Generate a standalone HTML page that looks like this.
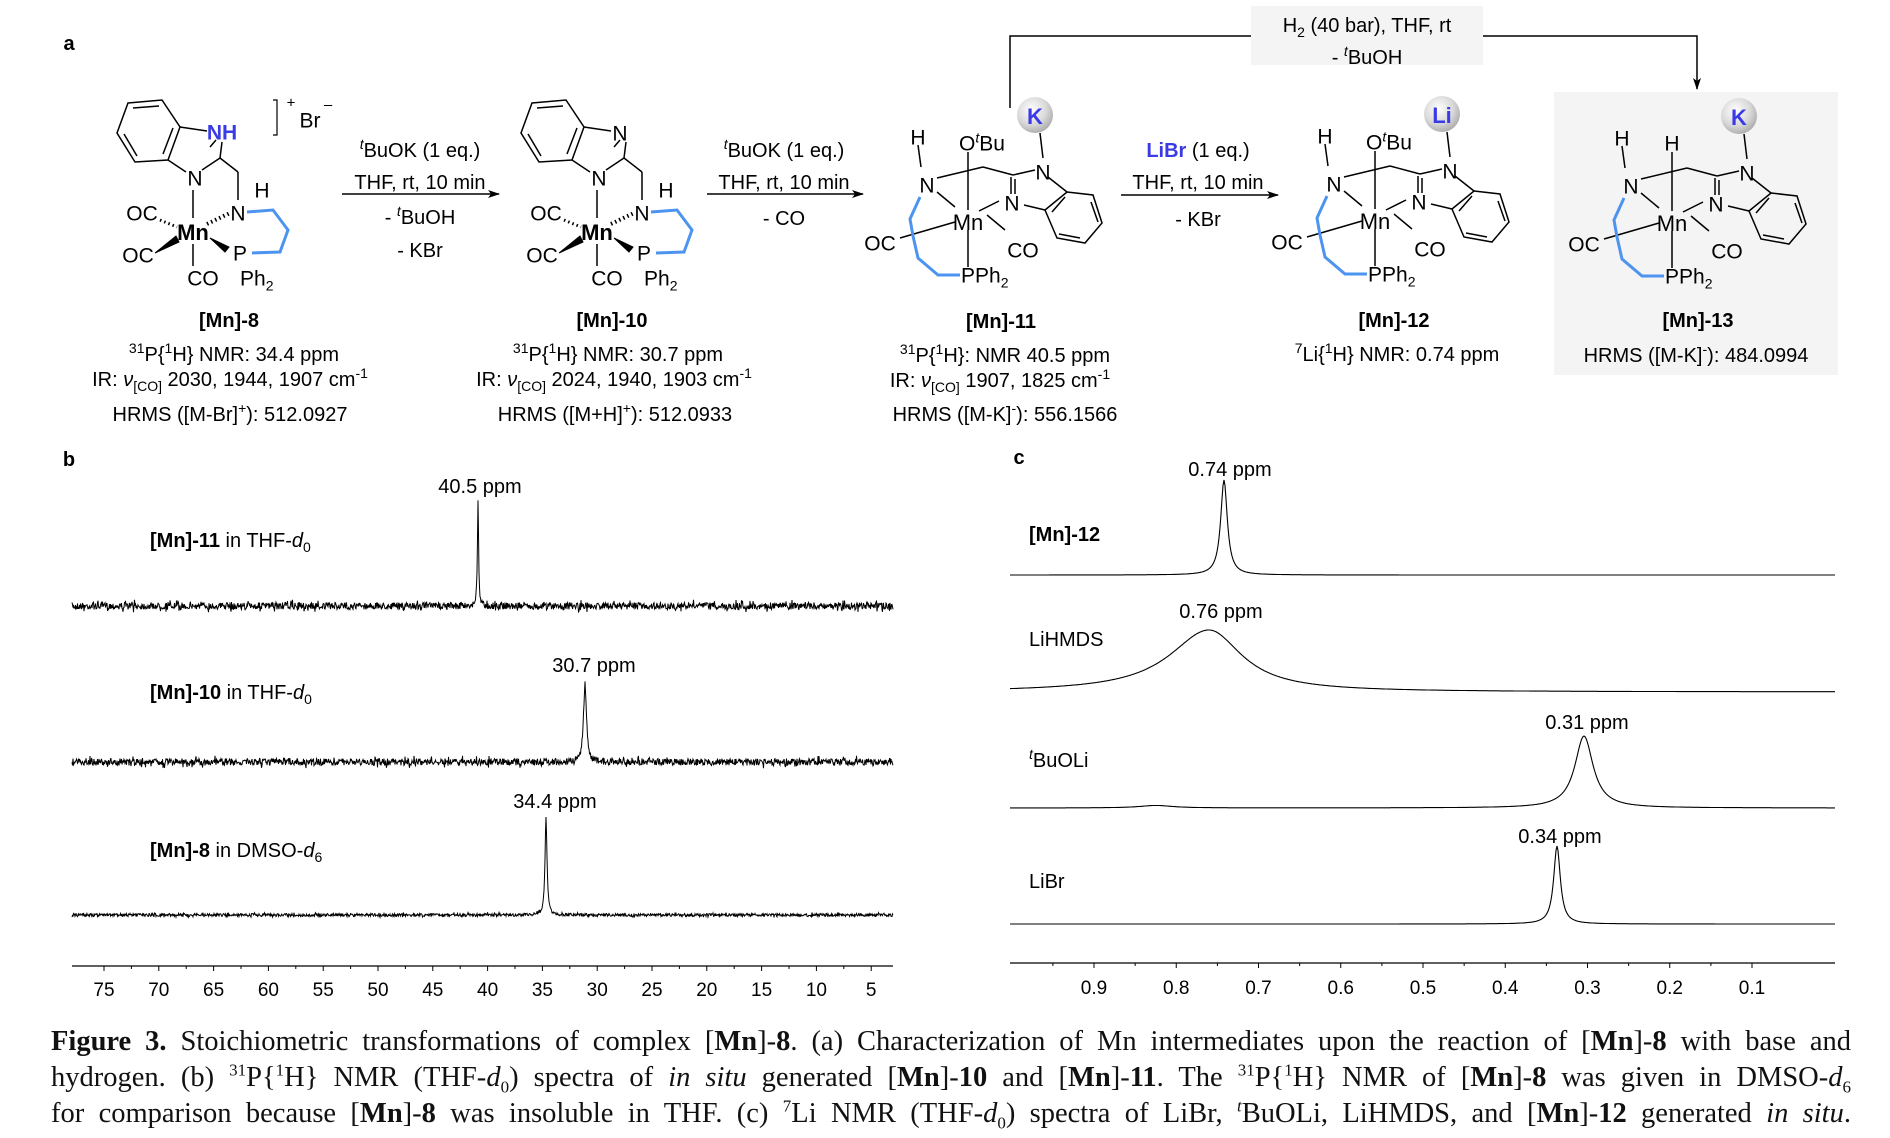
<!DOCTYPE html>
<html><head><meta charset="utf-8">
<style>
html,body{margin:0;padding:0;background:#fff;}
body{width:1890px;height:1138px;position:relative;overflow:hidden;}
svg{position:absolute;left:0;top:0;}
.cap{position:absolute;left:51px;top:1024px;width:1800px;font-family:"Liberation Serif",serif;font-size:28.5px;line-height:36px;text-align:justify;text-align-last:justify;color:#111;}
.cap p{margin:0;white-space:nowrap;}
.cap sup,.cap sub{font-size:17px;line-height:0;}
</style></head><body>
<svg id="s" width="1890" height="1138" viewBox="0 0 1890 1138" font-family="Liberation Sans, sans-serif">
<defs>
<radialGradient id="g" cx="0.4" cy="0.35" r="0.7">
<stop offset="0" stop-color="#ffffff"/><stop offset="0.6" stop-color="#d8d8d8"/><stop offset="1" stop-color="#a8a8a8"/>
</radialGradient>
<marker id="ar" markerWidth="12" markerHeight="8" refX="11" refY="4" orient="auto" markerUnits="userSpaceOnUse">
<path d="M0,0 L12,4 L0,8 L3,4 z" fill="#000"/></marker>
</defs>
<rect x="1554" y="92" width="284" height="283" fill="#f4f4f4"/>
<rect x="1251" y="6" width="232" height="59" fill="#f4f4f4"/>
<g id="main"></g>
</svg>
<div class="cap">
<p><b>Figure 3.</b> Stoichiometric transformations of complex [<b>Mn</b>]-<b>8</b>. (a) Characterization of Mn intermediates upon the reaction of [<b>Mn</b>]-<b>8</b> with base and</p>
<p>hydrogen. (b) <sup>31</sup>P{<sup>1</sup>H} NMR (THF-<i>d</i><sub>0</sub>) spectra of <i>in situ</i> generated [<b>Mn</b>]-<b>10</b> and [<b>Mn</b>]-<b>11</b>. The <sup>31</sup>P{<sup>1</sup>H} NMR of [<b>Mn</b>]-<b>8</b> was given in DMSO-<i>d</i><sub>6</sub></p>
<p>for comparison because [<b>Mn</b>]-<b>8</b> was insoluble in THF. (c) <sup>7</sup>Li NMR (THF-<i>d</i><sub>0</sub>) spectra of LiBr, <sup><i>t</i></sup>BuOLi, LiHMDS, and [<b>Mn</b>]-<b>12</b> generated <i>in situ</i>.</p>
</div>
<script>
(function(){
var o=[];
function L(x1,y1,x2,y2,c,w){o.push('<line x1="'+x1+'" y1="'+y1+'" x2="'+x2+'" y2="'+y2+'" stroke="'+(c||'#000')+'" stroke-width="'+(w||1.5)+'"/>');}
function T(x,y,s,opt){opt=opt||{};o.push('<text x="'+x+'" y="'+y+'" font-size="'+(opt.fs||21)+'" text-anchor="'+(opt.a||'middle')+'"'+(opt.b?' font-weight="bold"':'')+(opt.f?' fill="'+opt.f+'"':'')+'>'+s+'</text>');}
function P(d,c,w,f){o.push('<path d="'+d+'" stroke="'+(c||'#000')+'" stroke-width="'+(w||1.5)+'" fill="'+(f||'none')+'"/>');}
var SUB=function(s){return '<tspan font-size="14" baseline-shift="-5">'+s+'</tspan>';};
var SUP=function(s,it){return '<tspan font-size="14" baseline-shift="8"'+(it?' font-style="italic"':'')+'>'+s+'</tspan>';};
var T0=T;T=function(x,y,s,opt){opt=opt||{};var fs=opt.fs||21;T0(x,y+fs*0.36,s,opt);};
var BL='#4d94f0';
T(69,43,'a',{b:1,fs:20});T(69,459,'b',{b:1,fs:20});T(1019,457,'c',{b:1,fs:20});
function s8(dx,nh){
 o.push('<g transform="translate('+dx+',0)">');
 P('M128,103 L162,100 L180,127 L168,160 L135,162 L117,133 Z');
 L(133,108,159,106);L(173,128,163,154);L(124,134,137,156);
 L(168,160,186,172);L(180,127,207,131);
 L(202,170,220,158);L(210,147,216,140);L(220,158,222,142);
 L(220,158,238,172);L(238,172,238,200);
 L(193,190,193,218);L(193,244,193,266);
 P('M247,212 L273,210 L288,230 L280,252 L252,253',BL,3);
 o.push('<line x1="207" y1="224" x2="230" y2="213" stroke="#000" stroke-width="4" stroke-dasharray="1.5,3"/>');
 o.push('<line x1="160" y1="220" x2="177" y2="227" stroke="#000" stroke-width="3" stroke-dasharray="1.5,3"/>');
 P('M155,253 L176,236 L179,242 Z','#000',1,'#000');
 P('M210,238 L229,247 L225,252 Z','#000',1,'#000');
 if(nh){T(222,132,'NH',{f:'#3a3ae6',b:1});}else{T(216,133,'N');}
 T(195,178,'N');T(238,213,'N');T(262,190,'H');
 T(193,232,'Mn',{b:1,fs:22});
 T(142,213,'OC');T(138,255,'OC');T(203,278,'CO');T(240,253,'P');
 T(240,278,'Ph'+SUB('2'),{a:'start'});
 o.push('</g>');
}
s8(0,1);s8(404,0);
P('M273,100 L277,100 L277,135 L273,135',"#000",1.2);
T(291,102,'+',{fs:15});T(310,120,'Br',{});T(328,104,'&#8211;',{fs:15});
function s11(cx,cy,topH,ion){
 o.push('<g transform="translate('+cx+','+cy+')">');
 L(-50,-77,-47,-55);L(-31,-44,15,-55);L(15,-55,45,-47);L(45,-47,67,-52);
 L(43,-45,43,-28);L(47,-43,47,-28);
 L(-31,-30,-13,-15);L(31,-21,11,-11);
 L(0,topH?-71:-70,0,-12);L(0,8,0,45);
 L(-68,16,-13,0);L(19,-7,37,8);
 L(80,-45,99,-30);L(56,-17,77,-12);
 P('M99,-30 L125,-27 L134,1 L117,21 L89,16 L77,-12 Z');
 L(123,-20,130,0);L(112,16,91,12);L(84,-10,97,-25);
 L(72,-89,75,-64);
 P('M-48,-25 L-58,-3 L-55,14 L-50,36 L-30,53 L-8,53',BL,3);
 o.push('<circle cx="67" cy="-107" r="18" fill="url(#g)"/>');
 T(67,-106,ion,{f:'#3a3ae6',fs:22,b:1});
 T(-50,-85,'H');T(-41,-37,'N');
 if(topH){T(0,-80,'H');}else{T(-9,-79,'O'+SUP('t',1)+'Bu',{a:'start'});}
 T(0,0,'Mn',{fs:22});T(75,-50,'N');T(44,-19,'N');
 T(-88,21,'OC');T(55,28,'CO');T(-7,53,'PPh'+SUB('2'),{a:'start'});
 o.push('</g>');
}
s11(968,222,0,'K');s11(1375,221,0,'Li');s11(1672,223,1,'K');
function arr(x1,x2,y){o.push('<line x1="'+x1+'" y1="'+y+'" x2="'+x2+'" y2="'+y+'" stroke="#000" stroke-width="1.5" marker-end="url(#ar)"/>');}
arr(342,499,194);arr(707,863,194);arr(1121,1278,195);
var A={fs:20};
T(420,150,SUP('t',1)+'BuOK (1 eq.)',A);T(420,182,'THF, rt, 10 min',A);T(420,217,'- '+SUP('t',1)+'BuOH',A);T(420,250,'- KBr',A);
T(784,150,SUP('t',1)+'BuOK (1 eq.)',A);T(784,182,'THF, rt, 10 min',A);T(784,218,'- CO',A);
T(1198,150,'<tspan fill="#3a3ae6" font-weight="bold">LiBr</tspan> (1 eq.)',A);T(1198,182,'THF, rt, 10 min',A);T(1198,219,'- KBr',A);
P('M1010,108 L1010,36 L1251,36');
o.push('<path d="M1483,36 L1697,36 L1697,89" stroke="#000" stroke-width="1.5" fill="none" marker-end="url(#ar)"/>');
T(1367,25,'H'+SUB('2')+' (40 bar), THF, rt',A);T(1367,57,'- '+SUP('t',1)+'BuOH',A);
var C={fs:20};
T(229,320,'[Mn]-8',{b:1,fs:20});T(612,320,'[Mn]-10',{b:1,fs:20});T(1001,321,'[Mn]-11',{b:1,fs:20});T(1394,320,'[Mn]-12',{b:1,fs:20});T(1698,320,'[Mn]-13',{b:1,fs:20});
T(234,354,SUP('31')+'P{'+SUP('1')+'H} NMR: 34.4 ppm',C);
T(230,379,'IR:  <tspan font-style="italic">ν</tspan>'+SUB('[CO]')+' 2030, 1944, 1907 cm'+SUP('-1'),C);
T(230,414,'HRMS ([M-Br]'+SUP('+')+'): 512.0927',C);
T(618,354,SUP('31')+'P{'+SUP('1')+'H} NMR: 30.7 ppm',C);
T(614,379,'IR:  <tspan font-style="italic">ν</tspan>'+SUB('[CO]')+' 2024, 1940, 1903 cm'+SUP('-1'),C);
T(615,414,'HRMS ([M+H]'+SUP('+')+'): 512.0933',C);
T(1005,355,SUP('31')+'P{'+SUP('1')+'H}: NMR 40.5 ppm',C);
T(1000,380,'IR:  <tspan font-style="italic">ν</tspan>'+SUB('[CO]')+' 1907, 1825 cm'+SUP('-1'),C);
T(1005,414,'HRMS ([M-K]'+SUP('-')+'): 556.1566',C);
T(1397,354,SUP('7')+'Li{'+SUP('1')+'H} NMR: 0.74 ppm',C);
T(1696,355,'HRMS ([M-K]'+SUP('-')+'): 484.0994',C);
var seed=7;function rnd(){seed=(seed*16807)%2147483647;return seed/2147483647;}
function spec(x0,x1,base,amp,peaks,step){
 var d='';for(var x=x0;x<=x1;x+=step){var y=base+(rnd()-0.5)*2*amp*(rnd()<0.1?1.8:1);
 for(var i=0;i<peaks.length;i++){var p=peaks[i];y-=p[1]*p[2]*p[2]/((x-p[0])*(x-p[0])+p[2]*p[2]);}
 d+=(d?'L':'M')+x.toFixed(1)+','+y.toFixed(1);}
 P(d,'#000',1);
}
spec(72,893,606,3.5,[[478,106,0.7]],0.5);
spec(72,893,762,3.5,[[585,78,1.8]],0.5);
spec(72,893,915,1.5,[[546,97,1.2]],0.5);
L(72,966,893,966,'#000',1.2);
var lab=[75,70,65,60,55,50,45,40,35,30,25,20,15,10,5];
for(var i=0;i<lab.length;i++){var x=104+i*54.8;L(x,966,x,971,'#000',1);T(x,989,lab[i],{fs:19});if(i<14)L(x+27.4,966,x+27.4,969,'#000',1);}
T(480,486,'40.5 ppm',{fs:20});T(594,665,'30.7 ppm',{fs:20});T(555,801,'34.4 ppm',{fs:20});
T(150,540,'<tspan font-weight="bold">[Mn]-11</tspan> in THF-<tspan font-style="italic">d</tspan>'+SUB('0'),{a:'start',fs:20});
T(150,692,'<tspan font-weight="bold">[Mn]-10</tspan> in THF-<tspan font-style="italic">d</tspan>'+SUB('0'),{a:'start',fs:20});
T(150,850,'<tspan font-weight="bold">[Mn]-8</tspan> in DMSO-<tspan font-style="italic">d</tspan>'+SUB('6'),{a:'start',fs:20});
function lor(x0,x1,b0,b1,peaks){var d='';for(var x=x0;x<=x1;x+=1){var y=b0+(b1-b0)*(x-x0)/(x1-x0);
 for(var i=0;i<peaks.length;i++){var p=peaks[i];var w=(x<p[0]?p[2]:(p[3]||p[2]));y-=p[1]*w*w/((x-p[0])*(x-p[0])+w*w);}
 d+=(d?'L':'M')+x+','+y.toFixed(1);}P(d,'#000',1.1);}
lor(1010,1835,575,575,[[1224,95,4]]);
lor(1010,1835,692,692,[[1209,62,48,40]]);
lor(1010,1835,808,808,[[1584,72,11],[1156,2.5,20]]);
lor(1010,1835,924,924,[[1557,78,4]]);
L(1010,963,1835,963,'#000',1.2);
var cl=['0.9','0.8','0.7','0.6','0.5','0.4','0.3','0.2','0.1'];
for(var i=0;i<9;i++){var x=1094+i*82.25;L(x,963,x,968,'#000',1);T(x,987,cl[i],{fs:19});L(x-41.1,963,x-41.1,966,'#000',1);}
T(1230,469,'0.74 ppm',{fs:20});T(1221,611,'0.76 ppm',{fs:20});T(1587,722,'0.31 ppm',{fs:20});T(1560,836,'0.34 ppm',{fs:20});
T(1029,534,'[Mn]-12',{a:'start',b:1,fs:20});T(1029,639,'LiHMDS',{a:'start',fs:20});
T(1029,760,SUP('t',1)+'BuOLi',{a:'start',fs:20});T(1029,881,'LiBr',{a:'start',fs:20});
document.getElementById('main').innerHTML=o.join('');
})();
</script>
</body></html>
